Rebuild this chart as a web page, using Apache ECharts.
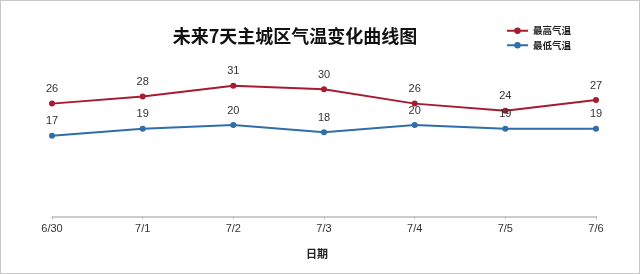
<!DOCTYPE html>
<html><head><meta charset="utf-8">
<script src="https://cdn.jsdelivr.net/npm/echarts@6/dist/echarts.min.js"></script>
<style>html,body{margin:0;padding:0;background:#fff}#c{width:638px;height:272px;border:1px solid #c8c8c8;background:#fff}</style>
</head><body><div id="c"></div>
<script>
var categories = ['6/30','7/1','7/2','7/3','7/4','7/5','7/6'];
var highTemps = [26, 28, 31, 30, 26, 24, 27];
var lowTemps = [17, 19, 20, 18, 20, 19, 19];
var seriesNames = ['最高气温','最低气温'];
var titleText = '未来7天主城区气温变化曲线图';
var axisName = '日期';

var chart = echarts.init(document.getElementById('c'), null, {renderer:'canvas'});
var lbl = {show:true, position:'top', distance:6, color:'#333', fontSize:11, fontFamily:'Liberation Sans, Arial'};
chart.setOption({
  animation:false,
  title:{text:titleText, left:289, top:21, textAlign:'center',
    textStyle:{fontSize:18, fontWeight:'bold', color:'#111', fontFamily:'Noto Sans CJK SC'}},
  legend:{data:seriesNames, orient:'vertical', left:500, top:20, itemGap:5, itemWidth:21, itemHeight:8,
    textStyle:{fontSize:9.5, color:'#222', fontFamily:'Noto Sans CJK SC', fontWeight:'bold'}},
  grid:{left:51, right:43, top:52.5, bottom:56.6},
  xAxis:{type:'category', data:categories, boundaryGap:false,
    axisLine:{onZero:false, lineStyle:{color:'#bcbcbc', width:1.5}},
    axisTick:{show:true, length:3, lineStyle:{color:'#bcbcbc'}},
    axisLabel:{color:'#333', fontSize:11, margin:7, fontFamily:'Liberation Sans, Arial'},
    name:axisName, nameLocation:'middle', nameGap:32,
    nameTextStyle:{fontSize:11, fontWeight:'bold', color:'#222', fontFamily:'Noto Sans CJK SC', padding:[0,14,0,0]}},
  yAxis:{type:'value', min:-5.5, max:40, show:false, splitLine:{show:false}},
  series:[
    {name:seriesNames[0], type:'line', data:highTemps, symbol:'circle', symbolSize:6,
      itemStyle:{color:'#a51c30'}, lineStyle:{color:'#a51c30', width:2}, label:lbl},
    {name:seriesNames[1], type:'line', data:lowTemps, symbol:'circle', symbolSize:6,
      itemStyle:{color:'#2f6ea8'}, lineStyle:{color:'#2f6ea8', width:2}, label:lbl}
  ]
});
</script></body></html>
